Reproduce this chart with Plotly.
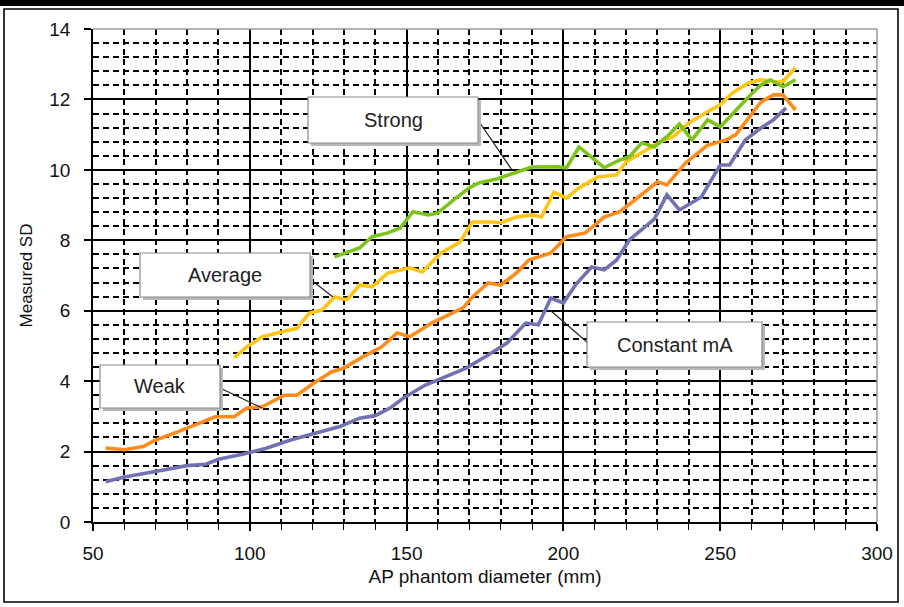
import plotly.graph_objects as go

# ---- data ----
const_x = [54, 60, 69, 80, 86, 90, 98, 105, 113, 119, 129, 135, 140, 145, 149, 156, 162, 169, 176, 182, 188, 192, 196, 200, 204, 209, 213, 217, 221, 225, 229, 233, 237, 244, 250, 253, 258, 263, 267, 271]
const_y = [1.14, 1.28, 1.42, 1.6, 1.64, 1.78, 1.93, 2.09, 2.33, 2.47, 2.72, 2.95, 3.02, 3.25, 3.52, 3.89, 4.12, 4.37, 4.74, 5.08, 5.65, 5.6, 6.36, 6.22, 6.75, 7.24, 7.16, 7.44, 8.01, 8.3, 8.6, 9.29, 8.86, 9.23, 10.14, 10.14, 10.85, 11.19, 11.42, 11.76]

weak_x = [54, 60, 66, 70, 77, 82, 89, 95, 99, 104, 111, 115, 120, 126, 130, 136, 142, 147, 151, 158, 165, 168, 171, 176, 180, 185, 189, 196, 201, 207, 213, 218, 224, 230, 233, 239, 246, 252, 255, 260, 263, 267, 270, 274]
weak_y = [2.1, 2.05, 2.14, 2.33, 2.56, 2.73, 2.99, 2.99, 3.24, 3.27, 3.6, 3.6, 3.92, 4.26, 4.37, 4.69, 4.97, 5.37, 5.26, 5.65, 5.97, 6.08, 6.39, 6.79, 6.73, 7.07, 7.44, 7.64, 8.1, 8.21, 8.66, 8.81, 9.23, 9.66, 9.57, 10.2, 10.7, 10.85, 11.0, 11.6, 11.93, 12.13, 12.13, 11.7]

avg_x = [95, 99, 104, 111, 115, 119, 123, 127, 131, 135, 139, 144, 151, 155, 161, 167, 171, 177, 180, 185, 190, 193, 197, 201, 205, 211, 217, 220, 225, 231, 235, 240, 246, 250, 254, 259, 263, 267, 270, 274]
avg_y = [4.66, 4.97, 5.26, 5.4, 5.5, 5.93, 6.02, 6.39, 6.31, 6.73, 6.68, 7.07, 7.22, 7.1, 7.64, 7.95, 8.52, 8.52, 8.5, 8.66, 8.72, 8.66, 9.37, 9.2, 9.49, 9.8, 9.86, 10.23, 10.48, 10.8, 10.94, 11.33, 11.65, 11.85, 12.19, 12.47, 12.56, 12.5, 12.5, 12.9]

strong_x = [127, 132, 135, 139, 144, 148, 152, 157, 160, 165, 170, 173, 179, 185, 190, 198, 201, 205, 209, 213, 218, 221, 225, 229, 233, 237, 241, 246, 250, 254, 259, 263, 266, 270, 274]
strong_y = [7.53, 7.67, 7.78, 8.1, 8.21, 8.35, 8.81, 8.72, 8.78, 9.15, 9.49, 9.63, 9.75, 9.93, 10.08, 10.09, 10.06, 10.65, 10.37, 10.06, 10.28, 10.37, 10.77, 10.65, 10.94, 11.3, 10.85, 11.42, 11.22, 11.6, 12.07, 12.41, 12.56, 12.36, 12.56]

x_ticks = [50, 100, 150, 200, 250, 300]
y_ticks = [0, 2, 4, 6, 8, 10, 12, 14]

FONT = "Liberation Sans, Arial, sans-serif"
W, H = 904, 607
L, R, T, B = 93, 877, 29, 522   # plot area in pixels

def px_paper(px, py):
    return (px - L) / (R - L), (B - py) / (B - T)

def px_data(px, py):
    return 50 + (px - L) * 250 / (R - L), (B - py) * 14 / (B - T)

fig = go.Figure()
series = [
    ("Constant mA", const_x, const_y, "#7272b2"),
    ("Weak", weak_x, weak_y, "#ff8c1a"),
    ("Average", avg_x, avg_y, "#ffc414"),
    ("Strong", strong_x, strong_y, "#7cc41c"),
]
for name, xs, ys, col in series:
    fig.add_trace(go.Scatter(x=xs, y=ys, mode="lines", name=name,
                             line=dict(color=col, width=3.6), showlegend=False))

shapes = []
# leader lines
for (a, b) in [((478, 120), (512, 170)), ((310, 279), (333, 297)),
               ((220, 388), (262, 408)), ((550, 310), (588, 343))]:
    x0, y0 = px_data(*a); x1, y1 = px_data(*b)
    shapes.append(dict(type="line", xref="x", yref="y", x0=x0, y0=y0, x1=x1, y1=y1,
                       line=dict(color="#222", width=1.2), layer="above"))

# label boxes (with shadow)
boxes = [("Strong", 308, 97, 478, 143), ("Average", 140, 253, 310, 297),
         ("Weak", 100, 365, 220, 408), ("Constant mA", 587, 322, 762, 367)]
annotations = []
for text, bx0, by0, bx1, by1 in boxes:
    sx0, sy0 = px_paper(bx0 + 3, by1 + 3); sx1, sy1 = px_paper(bx1 + 3, by0 + 3)
    shapes.append(dict(type="rect", xref="paper", yref="paper", x0=sx0, y0=sy0, x1=sx1, y1=sy1,
                       fillcolor="#b8b8b8", line=dict(width=0), layer="above"))
    p0x, p0y = px_paper(bx0, by1); p1x, p1y = px_paper(bx1, by0)
    shapes.append(dict(type="rect", xref="paper", yref="paper", x0=p0x, y0=p0y, x1=p1x, y1=p1y,
                       fillcolor="white", line=dict(color="#8a8a8a", width=1.2), layer="above"))
    cx, cy = px_paper((bx0 + bx1) / 2, (by0 + by1) / 2)
    annotations.append(dict(text=text, xref="paper", yref="paper", x=cx, y=cy,
                            showarrow=False, font=dict(family=FONT, size=20, color="#222"),
                            xanchor="center", yanchor="middle"))

# outer frame
fx0, fy0 = px_paper(4, 602); fx1, fy1 = px_paper(898, 9)
shapes.append(dict(type="rect", xref="paper", yref="paper", x0=fx0, y0=fy0, x1=fx1, y1=fy1,
                   line=dict(color="black", width=1.6), layer="above"))
bx0, by0 = px_paper(0, 6); bx1, by1 = px_paper(904, -2)
shapes.append(dict(type="rect", xref="paper", yref="paper", x0=bx0, y0=by0, x1=bx1, y1=by1,
                   fillcolor="black", line=dict(width=0), layer="above"))
# plot area top/right border (grey)
tx0, ty0 = px_paper(L, T); tx1, ty1 = px_paper(R, B)
shapes.append(dict(type="line", xref="paper", yref="paper", x0=tx0, y0=ty0, x1=tx1, y1=ty0,
                   line=dict(color="#999", width=1.5), layer="above"))
shapes.append(dict(type="line", xref="paper", yref="paper", x0=tx1, y0=ty0, x1=tx1, y1=ty1,
                   line=dict(color="#999", width=1.5), layer="above"))

fig.update_layout(
    width=W, height=H,
    margin=dict(l=L, r=W - R, t=T, b=H - B),
    paper_bgcolor="white", plot_bgcolor="white",
    font=dict(family=FONT, size=19, color="#111"),
    shapes=shapes, annotations=annotations,
    xaxis=dict(range=[50, 300], tickvals=x_ticks, ticktext=[str(v) for v in x_ticks],
               showgrid=True, gridcolor="black", gridwidth=1.8,
               showline=True, linecolor="black", linewidth=1.8,
               ticks="outside", ticklen=7, tickwidth=1.5, tickcolor="black",
               ticklabelstandoff=6,
               minor=dict(dtick=10, tick0=50, showgrid=True, gridcolor="black", gridwidth=1.6,
                          griddash="6px,4px", ticks="outside", ticklen=6, tickwidth=1.4,
                          tickcolor="black"),
               zeroline=False, fixedrange=True,
               title=dict(text="AP phantom diameter (mm)", font=dict(size=19), standoff=7),
               tickfont=dict(size=19)),
    yaxis=dict(range=[0, 14], tickvals=y_ticks, ticktext=[str(v) for v in y_ticks],
               showgrid=True, gridcolor="black", gridwidth=1.8,
               showline=True, linecolor="black", linewidth=1.8,
               ticks="outside", ticklen=7, tickwidth=1.5, tickcolor="black",
               ticklabelstandoff=10,
               minor=dict(dtick=0.4, tick0=0, showgrid=True, gridcolor="black", gridwidth=1.6,
                          griddash="6px,4px"),
               zeroline=False, fixedrange=True,
               title=dict(text="Measured SD", font=dict(size=17), standoff=12),
               tickfont=dict(size=19)),
)

fig.write_html("out.html", config={"displayModeBar": False},
               post_script="document.body.style.margin='0';document.body.style.padding='0';")
